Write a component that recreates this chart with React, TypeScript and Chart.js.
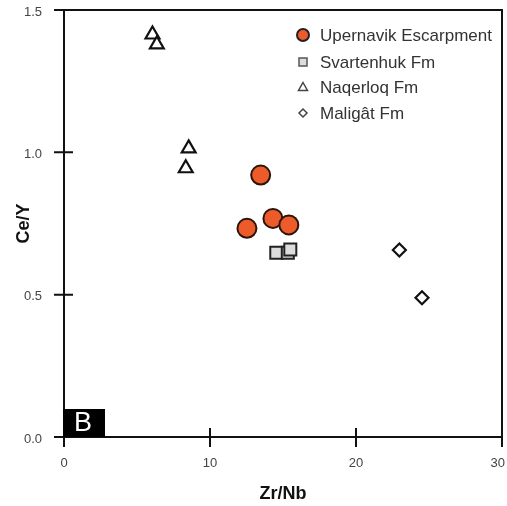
import React, { useEffect, useRef } from "react";
import { Chart, registerables } from "chart.js";

Chart.register(...registerables);

const upernavikX = [13.47, 14.31, 15.4, 12.53];
const upernavikY = [0.92, 0.768, 0.745, 0.733];
const svartenhukX = [14.54, 15.33, 15.5];
const svartenhukY = [0.647, 0.647, 0.659];
const naqerloqX = [6.06, 6.36, 8.54, 8.34];
const naqerloqY = [1.414, 1.379, 1.014, 0.944];
const maligatX = [22.97, 24.52];
const maligatY = [0.657, 0.489];

const seriesNames = ["Upernavik Escarpment", "Svartenhuk Fm", "Naqerloq Fm", "Maligât Fm"];
const xTicks = [0, 10, 20, 30];
const yTicks = [0, 0.5, 1.0, 1.5];
const panelLabel = "B";

const pts = (xs: number[], ys: number[]) => xs.map((x, i) => ({ x, y: ys[i] }));

const FONT = "'Liberation Sans', Arial, sans-serif";

const framePlugin = {
  id: "frame",
  afterDatasetsDraw(chart: any) {
    const { ctx, chartArea: a, scales } = chart;
    const xs = scales.x;
    const ys = scales.y;
    ctx.save();
    // box
    ctx.strokeStyle = "#111";
    ctx.lineWidth = 2;
    ctx.strokeRect(a.left, a.top, a.right - a.left, a.bottom - a.top);
    // crossing ticks
    ctx.lineWidth = 2;
    ctx.beginPath();
    yTicks.forEach((v) => {
      const py = ys.getPixelForValue(v);
      ctx.moveTo(a.left - 10, py);
      ctx.lineTo(a.left + (v === 0 || v === 1.5 ? 0 : 9), py);
    });
    xTicks.forEach((v) => {
      const px = xs.getPixelForValue(v);
      ctx.moveTo(px, a.bottom + 10);
      ctx.lineTo(px, a.bottom - (v === 0 || v === 30 ? 0 : 9));
    });
    ctx.stroke();
    // x tick labels
    ctx.fillStyle = "#444";
    ctx.font = `13px ${FONT}`;
    ctx.textAlign = "center";
    ctx.textBaseline = "middle";
    xTicks.forEach((v) => {
      const t = String(v);
      const w = ctx.measureText(t).width;
      const px = Math.min(xs.getPixelForValue(v), chart.width - w / 2 - 2);
      ctx.fillText(t, px, a.bottom + 26);
    });
    // panel label
    const bx = xs.getPixelForValue(0);
    const by = ys.getPixelForValue(0);
    ctx.fillStyle = "#000";
    ctx.fillRect(bx - 1, by - 28, 42, 28);
    ctx.fillStyle = "#fff";
    ctx.font = `27px ${FONT}`;
    ctx.textAlign = "center";
    ctx.textBaseline = "middle";
    ctx.fillText(panelLabel, bx + 19, by - 13);

    // legend
    const lx = a.right - 199;
    const rows = [35, 62, 87, 113];
    ctx.font = `17px ${FONT}`;
    ctx.textAlign = "left";
    ctx.textBaseline = "middle";
    rows.forEach((ry, i) => {
      ctx.lineWidth = 1.5;
      ctx.strokeStyle = "#222";
      ctx.beginPath();
      if (i === 0) {
        ctx.arc(lx, ry, 6, 0, Math.PI * 2);
        ctx.fillStyle = "#EE5B2B";
        ctx.fill();
        ctx.lineWidth = 2;
        ctx.stroke();
      } else if (i === 1) {
        ctx.rect(lx - 4, ry - 4, 8, 8);
        ctx.fillStyle = "#ddd";
        ctx.fill();
        ctx.strokeStyle = "#555";
        ctx.stroke();
      } else if (i === 2) {
        ctx.moveTo(lx, ry - 4.5);
        ctx.lineTo(lx + 4.5, ry + 3.5);
        ctx.lineTo(lx - 4.5, ry + 3.5);
        ctx.closePath();
        ctx.fillStyle = "#fff";
        ctx.fill();
        ctx.strokeStyle = "#444";
        ctx.stroke();
      } else {
        ctx.moveTo(lx, ry - 4);
        ctx.lineTo(lx + 4, ry);
        ctx.lineTo(lx, ry + 4);
        ctx.lineTo(lx - 4, ry);
        ctx.closePath();
        ctx.fillStyle = "#fff";
        ctx.fill();
        ctx.strokeStyle = "#444";
        ctx.stroke();
      }
      ctx.fillStyle = "#333";
      ctx.fillText(seriesNames[i], lx + 17, ry + 1);
    });
    ctx.restore();
  },
};

export default function App() {
  const ref = useRef<HTMLCanvasElement>(null);
  useEffect(() => {
    document.body.style.margin = "0";
    const canvas = ref.current!;
    const chart = new Chart(canvas, {
      type: "scatter",
      data: {
        datasets: [
          {
            label: seriesNames[0],
            data: pts(upernavikX, upernavikY),
            pointStyle: "circle",
            pointRadius: 9.5,
            pointBackgroundColor: "#EE5B2B",
            pointBorderColor: "#2a1508",
            pointBorderWidth: 2,
          },
          {
            label: seriesNames[1],
            data: pts(svartenhukX, svartenhukY),
            pointStyle: "rect",
            pointRadius: 8.5,
            pointBackgroundColor: "#dcdcdc",
            pointBorderColor: "#222",
            pointBorderWidth: 2,
          },
          {
            label: seriesNames[2],
            data: pts(naqerloqX, naqerloqY),
            pointStyle: "triangle",
            pointRadius: 8,
            pointBackgroundColor: "#fff",
            pointBorderColor: "#111",
            pointBorderWidth: 2.2,
          },
          {
            label: seriesNames[3],
            data: pts(maligatX, maligatY),
            pointStyle: "rectRot",
            pointRadius: 6.5,
            pointBackgroundColor: "#fff",
            pointBorderColor: "#111",
            pointBorderWidth: 2.2,
          },
        ],
      },
      options: {
        animation: false,
        responsive: false,
        maintainAspectRatio: false,
        layout: { autoPadding: false, padding: { top: 10, right: 5, left: 0, bottom: 0 } },
        plugins: { legend: { display: false }, tooltip: { enabled: false } },
        scales: {
          x: {
            type: "linear",
            min: 0,
            max: 30,
            afterBuildTicks: (s: any) => {
              s.ticks = xTicks.map((v) => ({ value: v }));
            },
            afterFit: (s: any) => {
              s.height = 69;
              s.paddingLeft = 0;
              s.paddingRight = 0;
            },
            grid: { display: false, drawTicks: false },
            border: { display: false },
            ticks: { display: false },
            title: {
              display: true,
              text: "Zr/Nb",
              color: "#111",
              font: { family: FONT, size: 18, weight: "bold" },
              padding: { top: 0, bottom: 1 },
            },
          },
          y: {
            type: "linear",
            min: 0,
            max: 1.5,
            afterBuildTicks: (s: any) => {
              s.ticks = yTicks.map((v) => ({ value: v }));
            },
            afterFit: (s: any) => {
              s.width = 64;
              s.paddingTop = 0;
              s.paddingBottom = 0;
            },
            grid: { display: false, drawTicks: false },
            border: { display: false },
            ticks: {
              padding: 22,
              color: "#444",
              labelOffset: 2,
              font: { family: FONT, size: 13 },
              callback: (v: any) => Number(v).toFixed(1),
            },
            title: {
              display: true,
              text: "Ce/Y",
              color: "#111",
              font: { family: FONT, size: 18, weight: "bold" },
              padding: { top: 13, bottom: 0 },
            },
          },
        },
      },
      plugins: [framePlugin],
    });
    return () => chart.destroy();
  }, []);
  return <canvas ref={ref} width={507} height={506} style={{ display: "block" }} />;
}
